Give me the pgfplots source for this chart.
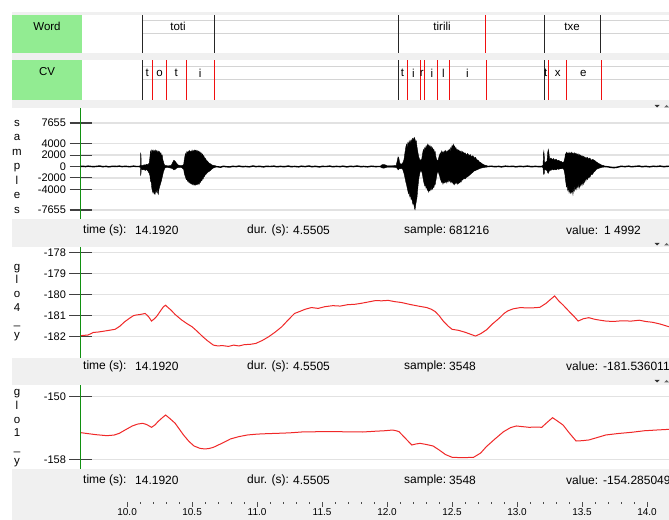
\documentclass[border=0pt]{standalone}
\usepackage{pgfplots}
\pgfplotsset{compat=1.18}
\usepackage{fontspec}
\setmainfont{Liberation Sans}
\definecolor{bandgray}{HTML}{F0F0F0}
\definecolor{lblgreen}{HTML}{92EC92}
\definecolor{axgreen}{HTML}{109010}
\definecolor{gridgray}{HTML}{E2E2E2}
\definecolor{tiergray}{HTML}{D4D4D4}
\definecolor{curvered}{HTML}{F02828}
\definecolor{segred}{HTML}{F01010}
\newcommand{\fs}[1]{\fontsize{#1bp}{#1bp}\selectfont}
\pgfplotsset{
  panel/.style={scale only axis, anchor=south west, width=588.5bp,
    xmin=9.6415, xmax=14.169, hide x axis, axis y line*=left,
    y axis line style={draw=axgreen, line width=1.6bp},
    ymajorgrids, grid style={draw=gridgray, line width=1.3bp},
    major tick length=22bp, tick align=center, scaled y ticks=false,
    ytick style={draw=black!75, line width=1.2bp},
    yticklabel style={font=\fs{11}, xshift=0bp},
    clip=true},
  tier/.style={scale only axis, anchor=south west, width=588.5bp,
    xmin=9.6415, xmax=14.169, ymin=0, ymax=1, hide axis, clip=true},
  wave/.style={fill=black, draw=black, line width=0.4bp, forget plot},
  bnd/.style={ycomb, mark=none, line width=1bp, forget plot},
}
\tikzset{info/.style={anchor=west, inner sep=0, font=\fs{12}}}
\begin{document}
\begin{tikzpicture}[x=1bp,y=1bp]
\useasboundingbox (0,0) rectangle (669,520);
\fill[white] (0,0) rectangle (669,520);
% grey bands
\fill[bandgray] (12,505) rectangle (669,508);
\fill[bandgray] (12,460) rectangle (669,467);
\fill[bandgray] (12,412) rectangle (669,420);
\fill[bandgray] (12,273) rectangle (669,301);
\fill[bandgray] (12,135) rectangle (669,162);
\fill[bandgray] (12,0) rectangle (669,51);
% tier name boxes
\fill[lblgreen] (12,467) rectangle (82,505);
\fill[lblgreen] (12,420) rectangle (82,460);
\node[font=\fs{11.5}] at (47,493.5) {Word};
\node[font=\fs{11.5}] at (47,448) {CV};

% ---------- Word tier ----------
\begin{axis}[tier, at={(80.5bp,467bp)}, height=38bp]
\addplot[tiergray, line width=1bp, forget plot] coordinates {(10.1154,0.85) (14.3,0.85)};
\addplot[tiergray, line width=1bp, forget plot] coordinates {(10.1154,0.518) (14.3,0.518)};
\addplot[bnd, black!85] coordinates {(10.1154,1) (10.6692,1) (12.089,1) (13.2115,1) (13.6423,1)};
\addplot[bnd, segred] coordinates {(12.7577,1)};
\node[font=\fs{11.5}] at (axis cs:10.392,0.69) {toti};
\node[font=\fs{11.5}] at (axis cs:12.423,0.69) {tirili};
\node[font=\fs{11.5}] at (axis cs:13.423,0.69) {txe};
\end{axis}

% ---------- CV tier ----------
\begin{axis}[tier, at={(80.5bp,420bp)}, height=40bp]
\addplot[tiergray, line width=1bp, forget plot] coordinates {(10.1154,0.8325) (14.3,0.8325)};
\addplot[tiergray, line width=1bp, forget plot] coordinates {(10.1154,0.5) (14.3,0.5)};
\addplot[bnd, black!85] coordinates {(10.1154,1) (12.089,1) (13.2115,1)};
\addplot[bnd, segred] coordinates {(10.1977,1) (10.3062,1) (10.4569,1) (10.6692,1)
  (12.159,1) (12.2538,1) (12.2846,1) (12.39,1) (12.4769,1) (12.7615,1)
  (13.2408,1) (13.3769,1) (13.6462,1)};
\foreach \t/\s in {10.154/t,10.25/o,10.377/t,10.562/i,12.118/t,12.202/i,12.267/r,12.344/i,12.433/l,12.618/i,13.221/t,13.313/x,13.51/e}{
  \edef\tmp{\noexpand\node[font=\noexpand\fs{11.5}] at (axis cs:\t,0.667) {\s};}\tmp
}
\end{axis}

% ---------- waveform ----------
\node[align=center, font=\fontsize{11.5bp}{14.5bp}\selectfont] at (17,353.5) {s\\a\\m\\p\\l\\e\\s};
\begin{axis}[panel, at={(80.5bp,301bp)}, height=111bp, ymin=-9238, ymax=10294,
  ytick={-7655,-4000,-2000,0,2000,4000,7655},
  yticklabels={-7655,-4000,-2000,0,2000,4000,7655}]
% baseline noise
\addplot[black, line width=1.4bp] coordinates {
(9.6415,0) (9.66,40) (9.68,-20) (9.70,60) (9.72,10) (9.74,-40) (9.77,30) (9.79,80)
(9.81,-30) (9.84,20) (9.86,-60) (9.89,40) (9.92,0) (9.94,70) (9.96,-20) (9.99,30)
(10.02,-50) (10.05,60) (10.07,-10) (10.10,0) (10.68,0) (10.70,-60) (10.72,-120) (10.74,40)
(10.76,-30) (10.79,-90) (10.81,30) (10.84,-20) (10.86,70) (10.89,-40) (10.91,10) (10.94,-60)
(10.97,90) (10.99,-20) (11.02,30) (11.05,-70) (11.07,40) (11.10,-10) (11.13,60) (11.15,-50)
(11.18,20) (11.21,-40) (11.24,80) (11.26,-30) (11.29,10) (11.32,-60) (11.34,50) (11.37,-20)
(11.40,90) (11.42,-40) (11.45,30) (11.48,-80) (11.50,20) (11.53,-10) (11.56,70) (11.58,-50)
(11.61,20) (11.64,-30) (11.66,60) (11.69,-70) (11.72,40) (11.74,-20) (11.77,80) (11.80,-40)
(11.82,10) (11.85,-60) (11.88,50) (11.91,-20) (11.94,0) (12.78,0) (12.80,50) (12.83,-40)
(12.86,20) (12.88,-70) (12.91,60) (12.94,-10) (12.97,40) (12.99,-60) (13.02,30) (13.05,-20)
(13.08,70) (13.11,-40) (13.14,20) (13.17,-30) (13.19,0) (13.67,0) (13.70,-60) (13.72,-150)
(13.74,-200) (13.76,-180) (13.78,-80) (13.80,40) (13.83,-30) (13.86,60) (13.88,-50)
(13.91,20) (13.94,80) (13.96,-40) (13.99,30) (14.02,-60) (14.05,50) (14.07,-10) (14.10,70)
(14.13,-40) (14.15,20) (14.169,40)};
% toti upper
\addplot[wave] coordinates {
(10.095,0) (10.095,100) (10.103,150) (10.104,2300) (10.107,2100) (10.108,200) (10.120,150)
(10.130,300) (10.140,250) (10.150,400) (10.160,300) (10.170,600) (10.175,1500) (10.180,2700)
(10.185,2300) (10.190,2900) (10.195,2600) (10.200,2900) (10.205,2500) (10.210,2800)
(10.215,2400) (10.220,2900) (10.225,2600) (10.230,2800) (10.235,2300) (10.240,2700)
(10.245,2400) (10.250,2600) (10.255,2100) (10.260,2400) (10.265,1800) (10.270,2000)
(10.275,1200) (10.280,800) (10.285,400) (10.290,200) (10.300,150) (10.320,100) (10.340,200)
(10.350,700) (10.360,1100) (10.370,900) (10.380,600) (10.390,300) (10.400,200) (10.420,150)
(10.435,300) (10.440,1200) (10.445,1800) (10.450,2300) (10.455,2000) (10.460,2600)
(10.465,2300) (10.470,2700) (10.475,2400) (10.480,2800) (10.485,2500) (10.490,2700)
(10.495,2600) (10.500,2900) (10.505,2500) (10.510,2800) (10.515,2600) (10.520,2900)
(10.525,2700) (10.530,2900) (10.535,2600) (10.540,2800) (10.545,2500) (10.550,2700)
(10.555,2400) (10.560,2600) (10.565,2300) (10.570,2400) (10.575,2000) (10.580,2200)
(10.585,1800) (10.590,1900) (10.595,1500) (10.600,1500) (10.610,1100) (10.620,900)
(10.630,600) (10.640,500) (10.650,300) (10.660,200) (10.680,150) (10.680,0)};
% toti lower
\addplot[wave] coordinates {
(10.095,0) (10.095,-100) (10.103,-150) (10.104,-1500) (10.107,-1300) (10.108,-400)
(10.120,-600) (10.130,-500) (10.140,-700) (10.150,-500) (10.160,-800) (10.170,-1200)
(10.175,-1500) (10.180,-2600) (10.185,-2700) (10.190,-3800) (10.195,-4300) (10.200,-4700)
(10.205,-4100) (10.210,-4800) (10.215,-4900) (10.220,-4200) (10.225,-4500) (10.230,-3900)
(10.235,-4600) (10.240,-4900) (10.245,-4000) (10.250,-3600) (10.255,-3200) (10.260,-2800)
(10.265,-2400) (10.270,-1900) (10.275,-1400) (10.280,-900) (10.285,-600) (10.290,-300)
(10.300,-150) (10.320,-200) (10.340,-300) (10.350,-400) (10.360,-600) (10.370,-500)
(10.380,-300) (10.390,-200) (10.400,-150) (10.420,-200) (10.435,-500) (10.440,-1200)
(10.445,-1600) (10.450,-1900) (10.455,-2300) (10.460,-2200) (10.465,-2600) (10.470,-2500)
(10.475,-2800) (10.480,-2700) (10.485,-3000) (10.490,-2800) (10.495,-3100) (10.500,-3000)
(10.505,-3200) (10.510,-2900) (10.515,-3300) (10.520,-3100) (10.525,-3300) (10.530,-3000)
(10.535,-3200) (10.540,-3000) (10.545,-3200) (10.550,-2900) (10.555,-3100) (10.560,-2700)
(10.565,-2800) (10.570,-2400) (10.575,-2500) (10.580,-2100) (10.585,-2200) (10.590,-1800)
(10.595,-1800) (10.600,-1500) (10.610,-1300) (10.620,-1000) (10.630,-900) (10.640,-700)
(10.650,-500) (10.660,-300) (10.680,-150) (10.680,0)};
% tirili upper
\addplot[wave] coordinates {
(11.950,0) (11.950,100) (11.960,300) (11.975,350) (11.990,250) (12.000,100) (12.070,150)
(12.080,1200) (12.085,1700) (12.090,1500) (12.095,900) (12.100,500) (12.110,400)
(12.120,600) (12.130,1200) (12.138,2500) (12.145,3500) (12.150,3900) (12.155,3300)
(12.160,4200) (12.165,3800) (12.170,4500) (12.175,4000) (12.180,4400) (12.185,4700)
(12.190,4200) (12.195,4900) (12.200,5000) (12.205,4500) (12.210,5100) (12.215,4800)
(12.220,4300) (12.225,4500) (12.230,3500) (12.235,2800) (12.240,2100) (12.245,1600)
(12.250,1300) (12.255,1000) (12.260,1200) (12.265,1100) (12.270,1800) (12.275,2500)
(12.280,3000) (12.285,2700) (12.290,3300) (12.295,3000) (12.300,3600) (12.305,3200)
(12.310,3900) (12.315,3400) (12.320,3800) (12.325,3300) (12.330,3700) (12.335,3200)
(12.340,3500) (12.345,3000) (12.350,3300) (12.355,2800) (12.360,3000) (12.365,2400)
(12.370,2600) (12.375,1800) (12.380,1300) (12.385,1100) (12.390,1000) (12.395,1300)
(12.400,1800) (12.405,2100) (12.410,2400) (12.415,2000) (12.420,2700) (12.425,2300)
(12.430,2600) (12.435,2200) (12.440,2700) (12.445,2400) (12.450,2800) (12.455,2300)
(12.460,2700) (12.465,2500) (12.470,2900) (12.475,2600) (12.480,3000) (12.485,2600)
(12.490,3300) (12.495,3000) (12.500,3700) (12.505,3300) (12.510,3900) (12.515,3400)
(12.520,3600) (12.525,3100) (12.530,3300) (12.535,2800) (12.540,3000) (12.545,2700)
(12.550,2900) (12.555,2500) (12.560,2800) (12.565,2400) (12.570,2700) (12.575,2300)
(12.580,2600) (12.585,2300) (12.590,2500) (12.595,2100) (12.600,2400) (12.610,2000)
(12.620,2300) (12.630,1900) (12.640,2100) (12.650,1700) (12.660,1900) (12.670,1500)
(12.680,1600) (12.690,1200) (12.700,1100) (12.710,800) (12.720,700) (12.730,500)
(12.740,350) (12.750,250) (12.770,150) (12.770,0)};
% tirili lower
\addplot[wave] coordinates {
(11.950,0) (11.950,-100) (11.960,-250) (11.975,-300) (11.990,-200) (12.000,-100)
(12.070,-150) (12.080,-400) (12.085,-600) (12.090,-500) (12.095,-300) (12.100,-400)
(12.110,-300) (12.120,-500) (12.130,-1200) (12.138,-2000) (12.145,-2800) (12.150,-3200)
(12.155,-3800) (12.160,-4300) (12.165,-4800) (12.170,-4500) (12.175,-5300) (12.180,-5000)
(12.185,-5800) (12.190,-5500) (12.195,-6300) (12.200,-6700) (12.205,-6200) (12.210,-7300)
(12.215,-7600) (12.220,-6800) (12.225,-6100) (12.230,-5500) (12.235,-4200) (12.240,-3000)
(12.245,-2000) (12.250,-1400) (12.255,-900) (12.260,-700) (12.265,-800) (12.270,-1200)
(12.275,-1800) (12.280,-2500) (12.285,-3000) (12.290,-3400) (12.295,-3200) (12.300,-3800)
(12.305,-3500) (12.310,-4200) (12.315,-3900) (12.320,-4500) (12.325,-4100) (12.330,-4300)
(12.335,-3800) (12.340,-4100) (12.345,-3600) (12.350,-4000) (12.355,-3500) (12.360,-3700)
(12.365,-3100) (12.370,-3200) (12.375,-2500) (12.380,-1900) (12.385,-1200) (12.390,-900)
(12.395,-1000) (12.400,-1400) (12.405,-1700) (12.410,-2200) (12.415,-2500) (12.420,-2800)
(12.425,-2600) (12.430,-3100) (12.435,-2700) (12.440,-2900) (12.445,-2600) (12.450,-2800)
(12.455,-2500) (12.460,-2900) (12.465,-2400) (12.470,-2700) (12.475,-2300) (12.480,-2600)
(12.485,-2400) (12.490,-2800) (12.495,-2500) (12.500,-2900) (12.505,-2600) (12.510,-3100)
(12.515,-2800) (12.520,-3200) (12.525,-2700) (12.530,-3000) (12.535,-2600) (12.540,-3100)
(12.545,-2800) (12.550,-3000) (12.555,-2700) (12.560,-2900) (12.565,-2500) (12.570,-2700)
(12.575,-2300) (12.580,-2400) (12.590,-2100) (12.600,-2200) (12.610,-1900) (12.620,-1800)
(12.630,-1600) (12.640,-1400) (12.650,-1200) (12.660,-1000) (12.670,-800) (12.680,-700)
(12.690,-600) (12.700,-500) (12.710,-400) (12.720,-300) (12.730,-250) (12.740,-200)
(12.750,-150) (12.770,-100) (12.770,0)};
% txe upper
\addplot[wave] coordinates {
(13.190,0) (13.190,100) (13.200,200) (13.203,2200) (13.206,2700) (13.209,2000) (13.212,600)
(13.220,800) (13.230,900) (13.236,2500) (13.240,3000) (13.244,2600) (13.248,1800)
(13.252,1200) (13.260,1500) (13.270,1200) (13.280,1400) (13.290,1100) (13.300,1300)
(13.310,1000) (13.320,1100) (13.330,900) (13.340,900) (13.350,700) (13.360,800)
(13.368,1500) (13.372,2200) (13.376,2000) (13.380,2500) (13.385,2200) (13.390,2400)
(13.395,2100) (13.400,2500) (13.405,2200) (13.410,2400) (13.415,2100) (13.420,2500)
(13.425,2200) (13.430,2400) (13.435,2000) (13.440,2400) (13.445,2100) (13.450,2300)
(13.455,2000) (13.460,2300) (13.465,1900) (13.470,2200) (13.475,1800) (13.480,2100)
(13.485,1800) (13.490,2000) (13.495,1700) (13.500,1900) (13.505,1600) (13.510,1800)
(13.515,1500) (13.520,1700) (13.525,1400) (13.530,1600) (13.535,1400) (13.540,1600)
(13.550,1300) (13.560,1500) (13.570,1100) (13.580,1250) (13.590,1150) (13.600,1000)
(13.610,800) (13.620,650) (13.630,500) (13.640,400) (13.650,250) (13.670,150) (13.670,0)};
% txe lower
\addplot[wave] coordinates {
(13.190,0) (13.190,-100) (13.200,-200) (13.203,-1200) (13.206,-1400) (13.209,-1300)
(13.212,-500) (13.220,-600) (13.230,-700) (13.236,-1100) (13.240,-1200) (13.244,-1000)
(13.248,-800) (13.252,-600) (13.260,-700) (13.270,-500) (13.280,-600) (13.290,-500)
(13.300,-600) (13.310,-400) (13.320,-500) (13.330,-400) (13.340,-400) (13.350,-300)
(13.360,-500) (13.368,-1400) (13.372,-2300) (13.376,-2900) (13.380,-3600) (13.385,-3300)
(13.390,-4200) (13.395,-3800) (13.400,-4600) (13.405,-4000) (13.410,-4700) (13.415,-4200)
(13.420,-4600) (13.425,-3900) (13.430,-4900) (13.435,-3800) (13.440,-4300) (13.445,-3500)
(13.450,-4000) (13.455,-3300) (13.460,-4000) (13.465,-3200) (13.470,-3700) (13.475,-3000)
(13.480,-3700) (13.485,-2900) (13.490,-3400) (13.495,-2700) (13.500,-3300) (13.505,-2600)
(13.510,-3100) (13.515,-2300) (13.520,-2800) (13.525,-2100) (13.530,-2500) (13.535,-1900)
(13.540,-2300) (13.550,-1900) (13.560,-1900) (13.570,-1400) (13.580,-1400) (13.590,-1000)
(13.600,-800) (13.610,-500) (13.620,-400) (13.630,-300) (13.640,-250) (13.650,-150)
(13.670,-100) (13.670,0)};
\end{axis}
\node[info] at (83,290) {time (s):};
\node[info] at (135,290) {14.1920};
\node[info] at (247,290) {dur. (s):};
\node[info] at (293,290) {4.5505};
\node[info] at (404,290) {sample:};
\node[info] at (449,290) {681216};
\node[info] at (566,290) {value:};
\node[info] at (604,290) {1 4992};
\fill[black!80] (654.5,415) -- (659.5,415) -- (657,412.5) -- cycle;
\fill[black!60] (664,412.5) -- (669,412.5) -- (666.5,415) -- cycle;

% ---------- glo4 ----------
\node[align=center, font=\fontsize{11.5bp}{13.7bp}\selectfont] at (17,217.5) {g\\l\\o\\4\\\_\\y};
\begin{axis}[panel, at={(80.5bp,162bp)}, height=111bp, ymin=-183.01, ymax=-177.75,
  ytick={-182,-181,-180,-179,-178},
  yticklabels={-182,-181,-180,-179,-178}]
\addplot[curvered, line width=1bp] coordinates {
(9.646,-181.95) (9.700,-181.92) (9.740,-181.80) (9.777,-181.78) (9.820,-181.74)
(9.860,-181.70) (9.908,-181.65) (9.945,-181.50) (9.980,-181.30) (10.020,-181.12)
(10.050,-181.00) (10.073,-180.97) (10.100,-180.95) (10.139,-180.90) (10.165,-181.05)
(10.188,-181.26) (10.210,-181.15) (10.230,-181.02) (10.260,-180.75) (10.280,-180.58)
(10.296,-180.51) (10.315,-180.62) (10.336,-180.73) (10.370,-180.95) (10.418,-181.20)
(10.460,-181.38) (10.500,-181.53) (10.540,-181.75) (10.582,-182.00) (10.620,-182.20)
(10.664,-182.40) (10.700,-182.44) (10.730,-182.42) (10.780,-182.46) (10.820,-182.40)
(10.860,-182.44) (10.900,-182.38) (10.950,-182.36) (10.990,-182.32) (11.040,-182.18)
(11.090,-182.00) (11.140,-181.78) (11.190,-181.53) (11.240,-181.20) (11.288,-180.90)
(11.330,-180.80) (11.370,-180.70) (11.418,-180.62) (11.470,-180.66) (11.520,-180.58)
(11.583,-180.53) (11.640,-180.55) (11.700,-180.48) (11.747,-180.47) (11.800,-180.42)
(11.860,-180.35) (11.910,-180.29) (11.960,-180.30) (12.008,-180.28) (12.060,-180.34)
(12.110,-180.38) (12.174,-180.47) (12.240,-180.55) (12.305,-180.62) (12.340,-180.70)
(12.370,-180.81) (12.400,-181.00) (12.436,-181.29) (12.470,-181.50) (12.500,-181.65)
(12.550,-181.70) (12.600,-181.79) (12.640,-181.88) (12.680,-181.97) (12.720,-181.86)
(12.764,-181.68) (12.810,-181.40) (12.862,-181.13) (12.900,-180.90) (12.928,-180.78)
(12.970,-180.68) (13.027,-180.62) (13.080,-180.64) (13.130,-180.63) (13.175,-180.61)
(13.223,-180.42) (13.260,-180.22) (13.289,-180.07) (13.320,-180.30) (13.354,-180.50)
(13.400,-180.80) (13.440,-181.05) (13.470,-181.26) (13.510,-181.15) (13.552,-181.10)
(13.600,-181.18) (13.640,-181.22) (13.683,-181.26) (13.740,-181.28) (13.800,-181.25)
(13.880,-181.26) (13.940,-181.22) (13.990,-181.28) (14.044,-181.32) (14.100,-181.40)
(14.169,-181.53)};
\end{axis}
\node[info] at (83,154) {time (s):};
\node[info] at (135,154) {14.1920};
\node[info] at (247,154) {dur. (s):};
\node[info] at (293,154) {4.5505};
\node[info] at (404,154) {sample:};
\node[info] at (449,154) {3548};
\node[info] at (566,154) {value:};
\node[info] at (603,154) {-181.536011};
\fill[black!80] (654.5,277) -- (659.5,277) -- (657,274.5) -- cycle;
\fill[black!60] (664,274.5) -- (669,274.5) -- (666.5,277) -- cycle;

% ---------- glo1 ----------
\node[align=center, font=\fontsize{11.5bp}{13.7bp}\selectfont] at (17,91.8) {g\\l\\o\\1\\\_\\y};
\begin{axis}[panel, at={(80.5bp,51bp)}, height=84bp, ymin=-159.24, ymax=-148.5,
  ytick={-158,-150}, yticklabels={-158,-150}]
\addplot[curvered, line width=1bp] coordinates {
(9.646,-154.60) (9.700,-154.72) (9.760,-154.85) (9.844,-154.98) (9.900,-154.90)
(9.940,-154.68) (9.990,-154.20) (10.040,-153.74) (10.080,-153.50) (10.120,-153.40)
(10.150,-153.55) (10.188,-153.91) (10.215,-153.60) (10.237,-153.19) (10.270,-152.70)
(10.296,-152.34) (10.330,-152.80) (10.370,-153.40) (10.400,-154.10) (10.434,-154.89)
(10.475,-155.70) (10.515,-156.30) (10.560,-156.60) (10.598,-156.68) (10.630,-156.62)
(10.664,-156.47) (10.730,-155.95) (10.795,-155.40) (10.860,-155.10) (10.926,-154.89)
(11.000,-154.78) (11.080,-154.72) (11.156,-154.68) (11.250,-154.62) (11.350,-154.50)
(11.485,-154.47) (11.600,-154.45) (11.700,-154.50) (11.812,-154.51) (11.900,-154.42)
(11.980,-154.35) (12.042,-154.26) (12.070,-154.35) (12.092,-154.47) (12.140,-155.30)
(12.190,-156.17) (12.220,-156.05) (12.254,-155.96) (12.300,-156.10) (12.354,-156.30)
(12.400,-156.80) (12.450,-157.40) (12.500,-157.74) (12.580,-157.80) (12.666,-157.74)
(12.720,-157.20) (12.764,-156.38) (12.830,-155.40) (12.896,-154.47) (12.950,-153.95)
(12.994,-153.74) (13.040,-153.82) (13.092,-153.91) (13.150,-153.88) (13.190,-153.91)
(13.230,-153.30) (13.273,-152.68) (13.310,-153.10) (13.354,-153.62) (13.400,-154.60)
(13.454,-155.66) (13.500,-155.62) (13.552,-155.53) (13.620,-155.20) (13.683,-154.89)
(13.780,-154.70) (13.880,-154.55) (13.980,-154.35) (14.080,-154.25) (14.169,-154.17)};
\end{axis}
\node[info] at (83,40) {time (s):};
\node[info] at (135,40) {14.1920};
\node[info] at (247,40) {dur. (s):};
\node[info] at (293,40) {4.5505};
\node[info] at (404,40) {sample:};
\node[info] at (449,40) {3548};
\node[info] at (566,40) {value:};
\node[info] at (603,40) {-154.285049};
\fill[black!80] (654.5,140) -- (659.5,140) -- (657,137.5) -- cycle;
\fill[black!60] (664,137.5) -- (669,137.5) -- (666.5,140) -- cycle;

% ---------- time scale ----------
\begin{axis}[scale only axis, anchor=south west, at={(80.5bp,18bp)}, width=588.5bp, height=5bp,
  xmin=9.6415, xmax=14.169, ymin=0, ymax=1, axis x line*=bottom, hide y axis,
  x axis line style={draw=none},
  xtick={10,10.5,11,11.5,12,12.5,13,13.5,14},
  xticklabels={10.0,10.5,11.0,11.5,12.0,12.5,13.0,13.5,14.0},
  minor x tick num=4, tick align=outside, major tick length=5bp, minor tick length=1.8bp,
  xtick style={draw=black!70, line width=0.9bp},
  xticklabel style={font=\fs{10}, inner sep=1.5bp}]
\addplot[draw=none, forget plot] coordinates {(10,0.5)};
\end{axis}
\end{tikzpicture}
\end{document}
